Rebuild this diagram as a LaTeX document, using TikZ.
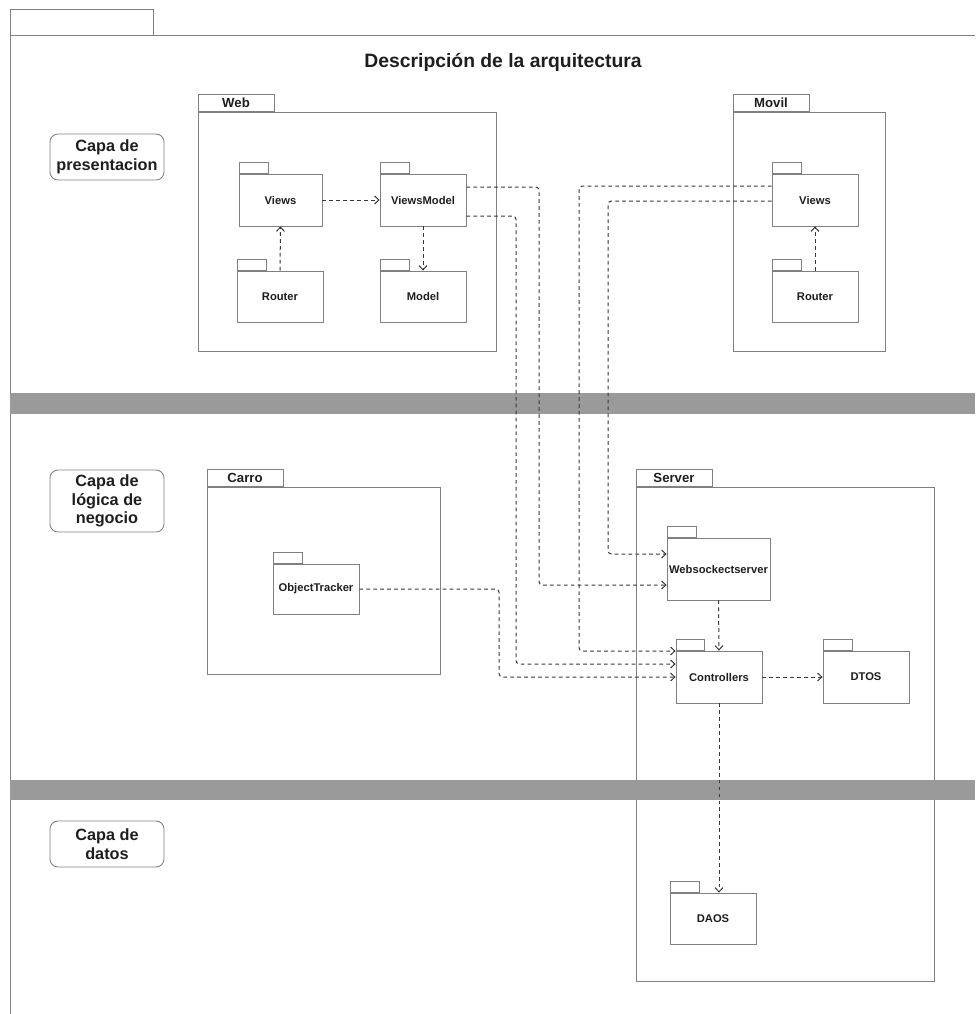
\documentclass[tikz,border=0pt]{standalone}
\usepackage{fontspec}
\setmainfont{Liberation Sans}
\usetikzlibrary{arrows.meta,calc}

\definecolor{pkgline}{HTML}{808080}
\definecolor{conn}{HTML}{383838}
\definecolor{band}{HTML}{9A9A9A}
\definecolor{ink}{HTML}{1E1E1E}

\tikzset{
  pkgbody/.style={draw=pkgline, line width=0.65pt, fill=white, inner sep=0pt,
    text=ink, font=\fontsize{8.4}{10}\selectfont\bfseries},
  pkgtab/.style={draw=pkgline, line width=0.65pt, fill=white, inner sep=0pt,
    anchor=south west, text=ink, font=\fontsize{9.9}{11}\selectfont\bfseries},
  layer/.style={draw=pkgline, line width=0.65pt, rounded corners=6pt, align=center,
    inner sep=0pt, text=ink, font=\fontsize{12.2}{13.9}\selectfont\bfseries},
  frameline/.style={draw=pkgline, line width=0.65pt},
  dep/.style={draw=conn, line width=0.75pt, dash pattern=on 2.8pt off 2.4pt,
    rounded corners=2.5pt, -{Straight Barb[length=3.2pt,width=6pt]}},
}

% UML package: name, x1, y1, x2, y2, tab width, tab height, body text, tab text
\newcommand\umlpkg[9]{%
  \node[pkgbody, minimum width={(#4-#2)*0.75pt}, minimum height={(#5-#3)*0.75pt}]
    (#1) at ({(#2+#4)/2},{(#3+#5)/2}) {#8};
  \node[pkgtab, minimum width={#6*0.75pt}, minimum height={#7*0.75pt}]
    (#1-tab) at (#1.north west) {#9};
}

\begin{document}
\begin{tikzpicture}[x=0.75pt, y=-0.75pt]
  \useasboundingbox (0,0) rectangle (975,1014);

  % outer frame
  \draw[frameline] (10,9) rectangle (153,35);
  \draw[frameline] (975,35) -- (10,35) -- (10,1014);
  \node[text=ink, font=\fontsize{14.5}{16}\selectfont\bfseries] (title) at (503,62)
    {Descripción de la arquitectura};

  % layer labels
  \node[layer, minimum width=85.5pt, minimum height=34.5pt] (lpres) at (107,157)
    {Capa de\\presentacion};
  \node[layer, minimum width=85.5pt, minimum height=46.5pt] (llog) at (107,501)
    {Capa de\\lógica de\\negocio};
  \node[layer, minimum width=85.5pt, minimum height=34.5pt] (ldat) at (107,844)
    {Capa de\\datos};

  % presentation packages
  \umlpkg{web}{198}{112}{496}{351}{76}{17}{}{Web}
  \umlpkg{vweb}{239}{174}{322}{226}{29}{11}{Views}{}
  \umlpkg{vm}{380}{174}{466}{226}{29}{11}{ViewsModel}{}
  \umlpkg{rweb}{237}{271}{323}{322}{29}{11}{Router}{}
  \umlpkg{model}{380}{271}{466}{322}{29}{11}{Model}{}

  \umlpkg{movil}{733}{112}{885}{351}{76}{17}{}{Movil}
  \umlpkg{vmov}{772}{174}{858}{226}{29}{11}{Views}{}
  \umlpkg{rmov}{772}{271}{858}{322}{29}{11}{Router}{}

  % business logic packages
  \umlpkg{carro}{207}{487}{440}{674}{76}{17}{}{Carro}
  \umlpkg{ot}{273}{564}{359}{614}{29}{11}{ObjectTracker}{}

  \umlpkg{server}{636}{487}{934}{981}{76}{17}{}{Server}
  \umlpkg{wss}{667}{538}{770}{600}{29}{11}{Websockectserver}{}
  \umlpkg{ctrl}{676}{651}{762}{703}{28}{11}{Controllers}{}
  \umlpkg{dtos}{823}{651}{909}{703}{29}{11}{DTOS}{}
  \umlpkg{daos}{670}{893}{756}{944}{29}{11}{DAOS}{}

  % layer separators
  \fill[band] (10,393) rectangle (975,414);
  \fill[band] (10,780) rectangle (975,800);

  % dependencies inside packages
  \draw[dep] (rweb.north) -- (vweb.south);
  \draw[dep] (vweb.east) -- (vm.west);
  \draw[dep] (vm.south) -- (model.north);
  \draw[dep] (rmov.north) -- (vmov.south);
  \draw[dep] (wss.south) -- (ctrl.north);
  \draw[dep] (ctrl.east) -- (dtos.west);
  \draw[dep] (ctrl.south) -- (ctrl.south |- daos.north);

  % dependencies across layers
  \draw[dep] ($(vm.east)+(0,-13)$) -| (539,585) -- ($(wss.west)+(0,16)$);
  \draw[dep] ($(vm.east)+(0,16)$) -| (516,664) -- ($(ctrl.west)+(0,-13)$);
  \draw[dep] ($(vmov.west)+(0,-14)$) -| (579,651) -- ($(ctrl.west)+(0,-26)$);
  \draw[dep] ($(vmov.west)+(0,1)$) -| (608,554) -- ($(wss.west)+(0,-15)$);
  \draw[dep] (ot.east) -| (499,677) -- (ctrl.west);
\end{tikzpicture}
\end{document}
